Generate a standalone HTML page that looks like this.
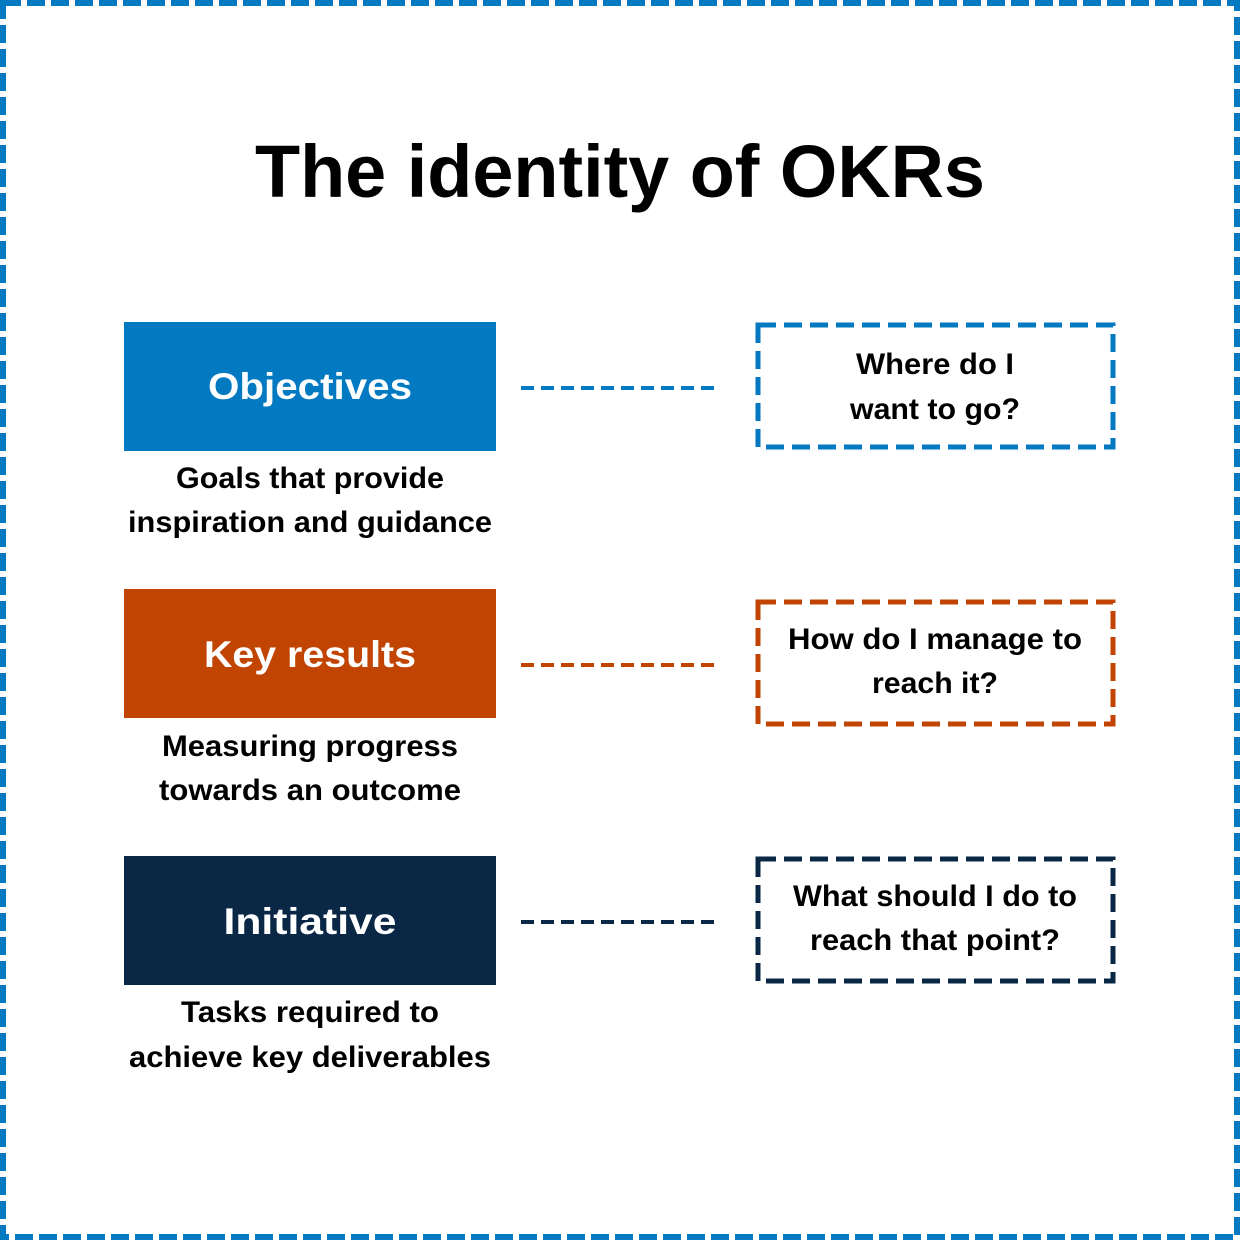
<!DOCTYPE html>
<html><head><meta charset="utf-8"><style>html,body{margin:0;padding:0;background:#fff}svg{display:block}</style></head>
<body>
<svg width="1240" height="1240" viewBox="0 0 1240 1240" xmlns="http://www.w3.org/2000/svg" font-family="Liberation Sans, sans-serif" font-weight="bold">
<rect x="3" y="3" width="1234" height="1234" fill="none" stroke="#0279c1" stroke-width="6" stroke-dasharray="18 6"/>
<text x="620" y="197" font-size="74" text-anchor="middle" fill="#000" textLength="730" lengthAdjust="spacingAndGlyphs">The identity of OKRs</text>

<rect x="124" y="322" width="372" height="129" fill="#0279c1"/>
<text x="310" y="399" font-size="37" text-anchor="middle" fill="#fff" textLength="204" lengthAdjust="spacingAndGlyphs">Objectives</text>
<text x="310" y="488" font-size="30" text-anchor="middle" fill="#000" textLength="268" lengthAdjust="spacingAndGlyphs">Goals that provide</text>
<text x="310" y="532" font-size="30" text-anchor="middle" fill="#000" textLength="364" lengthAdjust="spacingAndGlyphs">inspiration and guidance</text>
<line x1="521" y1="388" x2="716" y2="388" stroke="#0279c1" stroke-width="4" stroke-dasharray="13 7"/>
<rect x="758" y="325" width="355" height="122" fill="none" stroke="#0279c1" stroke-width="5" stroke-dasharray="18 8"/>
<text x="935" y="374" font-size="30" text-anchor="middle" fill="#000" textLength="158" lengthAdjust="spacingAndGlyphs">Where do I</text>
<text x="935" y="419" font-size="30" text-anchor="middle" fill="#000" textLength="170" lengthAdjust="spacingAndGlyphs">want to go?</text>

<rect x="124" y="589" width="372" height="129" fill="#c14402"/>
<text x="310" y="667" font-size="37" text-anchor="middle" fill="#fff" textLength="212" lengthAdjust="spacingAndGlyphs">Key results</text>
<text x="310" y="756" font-size="30" text-anchor="middle" fill="#000" textLength="296" lengthAdjust="spacingAndGlyphs">Measuring progress</text>
<text x="310" y="800" font-size="30" text-anchor="middle" fill="#000" textLength="302" lengthAdjust="spacingAndGlyphs">towards an outcome</text>
<line x1="521" y1="665" x2="716" y2="665" stroke="#c14402" stroke-width="4" stroke-dasharray="13 7"/>
<rect x="758" y="602" width="355" height="122" fill="none" stroke="#c14402" stroke-width="5" stroke-dasharray="18 8"/>
<text x="935" y="649" font-size="30" text-anchor="middle" fill="#000" textLength="294" lengthAdjust="spacingAndGlyphs">How do I manage to</text>
<text x="935" y="693" font-size="30" text-anchor="middle" fill="#000" textLength="126" lengthAdjust="spacingAndGlyphs">reach it?</text>

<rect x="124" y="856" width="372" height="129" fill="#0a2846"/>
<text x="310" y="934" font-size="37" text-anchor="middle" fill="#fff" textLength="173" lengthAdjust="spacingAndGlyphs">Initiative</text>
<text x="310" y="1022" font-size="30" text-anchor="middle" fill="#000" textLength="258" lengthAdjust="spacingAndGlyphs">Tasks required to</text>
<text x="310" y="1067" font-size="30" text-anchor="middle" fill="#000" textLength="362" lengthAdjust="spacingAndGlyphs">achieve key deliverables</text>
<line x1="521" y1="922" x2="716" y2="922" stroke="#0a2846" stroke-width="4" stroke-dasharray="13 7"/>
<rect x="758" y="859" width="355" height="122" fill="none" stroke="#0a2846" stroke-width="5" stroke-dasharray="18 8"/>
<text x="935" y="906" font-size="30" text-anchor="middle" fill="#000" textLength="284" lengthAdjust="spacingAndGlyphs">What should I do to</text>
<text x="935" y="950" font-size="30" text-anchor="middle" fill="#000" textLength="250" lengthAdjust="spacingAndGlyphs">reach that point?</text>
</svg>
</body></html>
